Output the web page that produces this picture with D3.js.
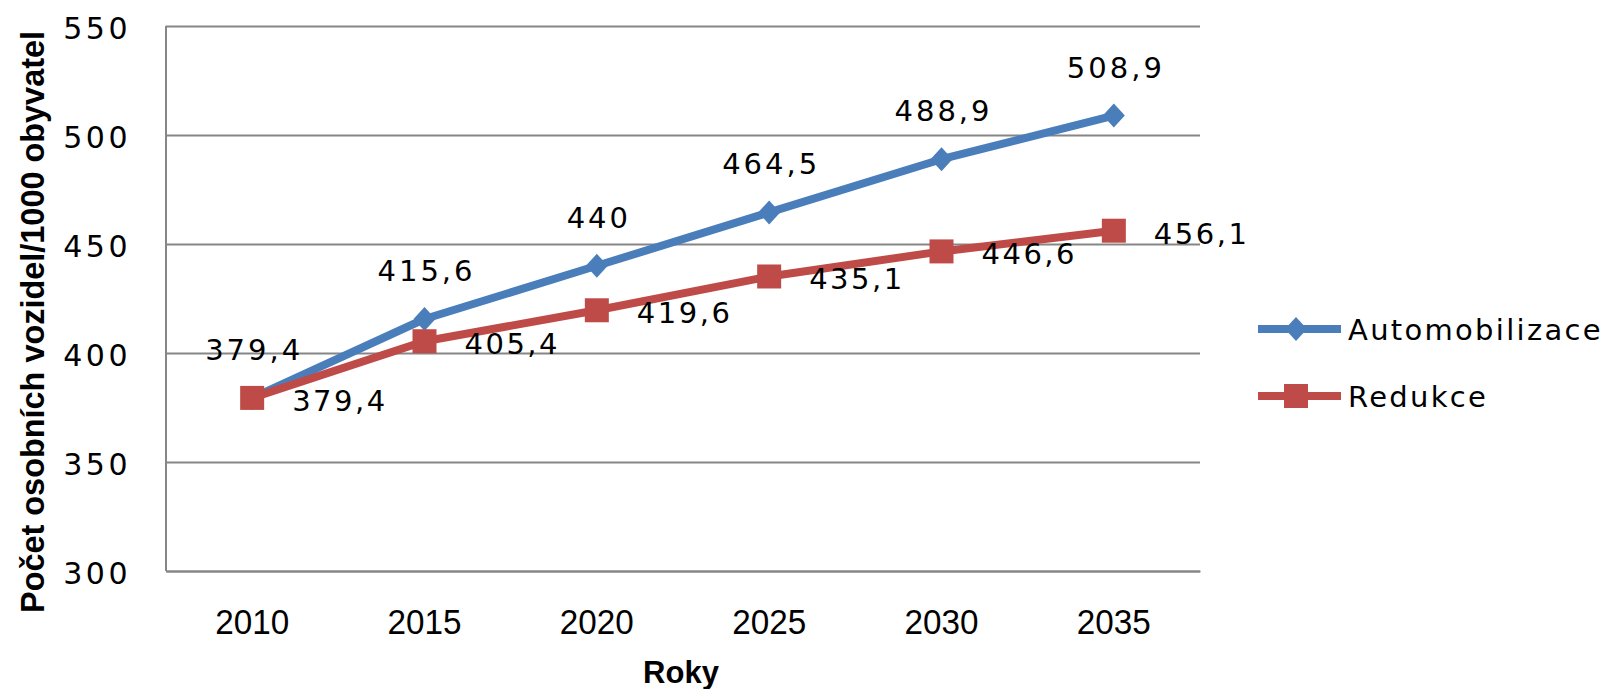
<!DOCTYPE html>
<html>
<head>
<meta charset="utf-8">
<script src="https://cdn.jsdelivr.net/npm/d3@7"></script>
<style>
  html, body { margin: 0; padding: 0; background: #fff; }
  svg { display: block; }
</style>
</head>
<body>
<script>
// ---- data ----
const years = ["2010", "2015", "2020", "2025", "2030", "2035"];
const automobilizace = [379.4, 415.6, 440, 464.5, 488.9, 508.9];
const redukce = [379.4, 405.4, 419.6, 435.1, 446.6, 456.1];
const seriesNames = ["Automobilizace", "Redukce"];
const yTicks = [300, 350, 400, 450, 500, 550];
const yTitle = "Počet osobních vozidel/1000 obyvatel";
const xTitle = "Roky";

// ---- layout ----
const W = 1602, H = 689;
const plot = { left: 166, right: 1200, top: 26, bottom: 571 };
const blue = "#4A7EBB", red = "#BE4B48", gridCol = "#868686";

const svg = d3.select("body").append("svg").attr("width", W).attr("height", H);

const x = d3.scaleBand().domain(years).range([plot.left, plot.right]).padding(0);
const y = d3.scaleLinear().domain([300, 550]).range([plot.bottom, plot.top]);
const cx = d => x(d) + x.bandwidth() / 2;
const fmt = v => String(v).replace(".", ",");

// gridlines
const grid = svg.append("g").attr("transform", `translate(${plot.left},0)`)
  .call(d3.axisLeft(y).tickValues(yTicks).tickSize(-(plot.right - plot.left)).tickFormat(""));
grid.select(".domain").remove();
grid.selectAll("line").attr("stroke", gridCol).attr("stroke-width", 2);

// y tick labels
const yAx = svg.append("g").attr("transform", `translate(${plot.left},0)`)
  .call(d3.axisLeft(y).tickValues(yTicks).tickSize(0).tickPadding(35));
yAx.select(".domain").remove();
yAx.selectAll("text")
  .attr("dy", null).attr("y", 12)
  .attr("font-family", "DejaVu Sans").attr("font-size", 30)
  .attr("letter-spacing", 3.5).attr("fill", "#000");

// left axis line
svg.append("line").attr("x1", plot.left).attr("x2", plot.left)
  .attr("y1", y(550)).attr("y2", y(300)).attr("stroke", gridCol).attr("stroke-width", 2);

// x axis
const xAx = svg.append("g").attr("transform", `translate(0,${plot.bottom})`)
  .call(d3.axisBottom(x).tickSize(0));
xAx.select(".domain").attr("stroke", gridCol).attr("stroke-width", 2);
xAx.selectAll("text")
  .attr("dy", null).attr("y", 63)
  .attr("font-family", "Liberation Sans").attr("font-size", 35)
  .attr("textLength", 74).attr("lengthAdjust", "spacingAndGlyphs")
  .attr("fill", "#000");

// axis titles
svg.append("text").text(yTitle)
  .attr("transform", `translate(44,322) rotate(-90)`)
  .attr("text-anchor", "middle")
  .attr("font-family", "Liberation Sans").attr("font-weight", "bold").attr("font-size", 33)
  .attr("textLength", 582).attr("lengthAdjust", "spacingAndGlyphs").attr("fill", "#000");

svg.append("text").text(xTitle)
  .attr("x", (plot.left + plot.right) / 2 - 2).attr("y", 683)
  .attr("text-anchor", "middle")
  .attr("font-family", "Liberation Sans").attr("font-weight", "bold").attr("font-size", 31)
  .attr("fill", "#000");

// symbols
const diamondPath = (hw, hh) => `M0,${-hh}L${hw},0L0,${hh}L${-hw},0Z`;
const squarePath = (s) => `M${-s/2},${-s/2}h${s}v${s}h${-s}Z`;

const line = d3.line().x((d, i) => cx(years[i])).y(d => y(d));

// series: blue
svg.append("path").datum(automobilizace).attr("d", line)
  .attr("fill", "none").attr("stroke", blue).attr("stroke-width", 8).attr("stroke-linejoin", "round");
svg.append("g").selectAll("path").data(automobilizace).join("path")
  .attr("d", diamondPath(11, 12))
  .attr("transform", (d, i) => `translate(${cx(years[i])},${y(d)})`)
  .attr("fill", blue);

// series: red
svg.append("path").datum(redukce).attr("d", line)
  .attr("fill", "none").attr("stroke", red).attr("stroke-width", 8).attr("stroke-linejoin", "round");
svg.append("g").selectAll("path").data(redukce).join("path")
  .attr("d", squarePath(24))
  .attr("transform", (d, i) => `translate(${cx(years[i])},${y(d)})`)
  .attr("fill", red);

// data labels
svg.append("g").selectAll("text").data(automobilizace).join("text")
  .text(d => fmt(d))
  .attr("x", (d, i) => cx(years[i]) + 2).attr("y", d => y(d) - 38)
  .attr("text-anchor", "middle")
  .attr("font-family", "DejaVu Sans").attr("font-size", 29).attr("letter-spacing", 3)
  .attr("fill", "#000");

svg.append("g").selectAll("text").data(redukce).join("text")
  .text(d => fmt(d))
  .attr("x", (d, i) => cx(years[i]) + 40).attr("y", d => y(d) + 13)
  .attr("font-family", "DejaVu Sans").attr("font-size", 29).attr("letter-spacing", 2.5)
  .attr("fill", "#000");

// legend
const legendY = [329, 396];
const legendCols = [blue, red];
const lg = svg.append("g").selectAll("g").data(seriesNames).join("g")
  .attr("transform", (d, i) => `translate(0,${legendY[i]})`);
lg.append("line").attr("x1", 1258).attr("x2", 1341).attr("y1", 0).attr("y2", 0)
  .attr("stroke", (d, i) => legendCols[i]).attr("stroke-width", 8);
lg.append("path")
  .attr("d", (d, i) => i === 0 ? diamondPath(11, 12) : squarePath(24))
  .attr("transform", "translate(1296,0)")
  .attr("fill", (d, i) => legendCols[i]);
lg.append("text").text(d => d)
  .attr("x", 1348).attr("y", 11)
  .attr("font-family", "DejaVu Sans").attr("font-size", 29).attr("letter-spacing", 2.3)
  .attr("fill", "#000");
</script>
</body>
</html>
